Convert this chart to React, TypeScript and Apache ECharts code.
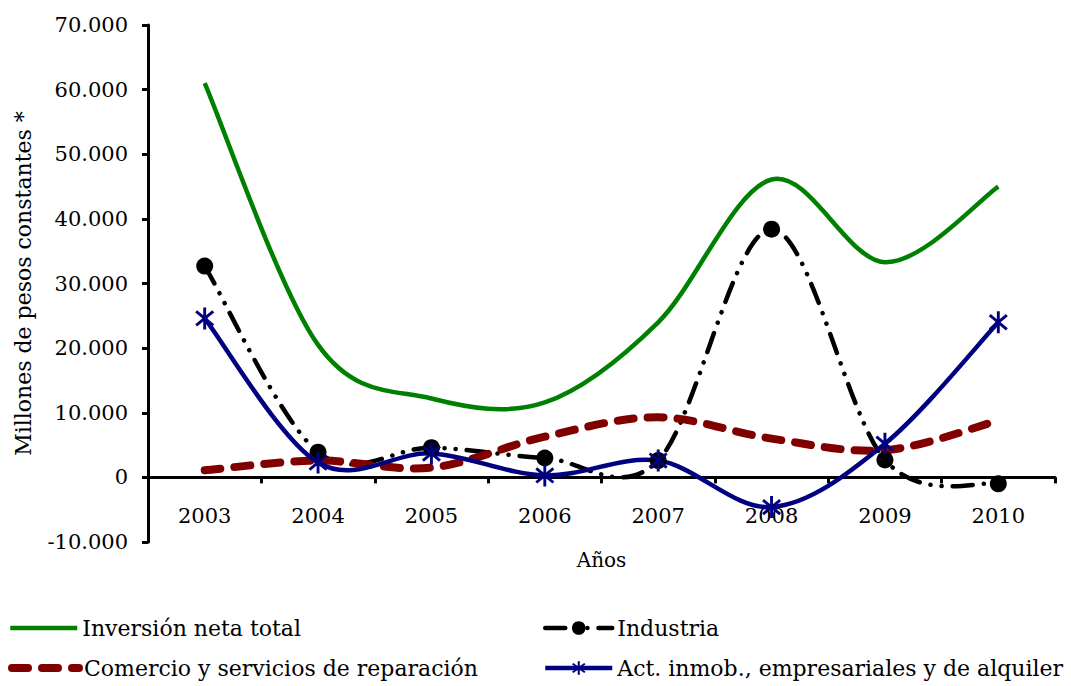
import React, { useEffect, useRef } from "react";
import * as echarts from "echarts";

const years = ["2003", "2004", "2005", "2006", "2007", "2008", "2009", "2010"];
const inversionTotal = [61000, 20500, 12200, 11600, 24000, 46100, 33300, 45000];
const industria = [32700, 3900, 4600, 3000, 2600, 38400, 2700, -1000];
const comercio = [1100, 2600, 1500, 6300, 9300, 6000, 4200, 8800];
const actInmob = [24600, 2300, 3700, 300, 2600, -4600, 5200, 24000];

const seriesNames = [
  "Inversión neta total",
  "Industria",
  "Comercio y servicios de reparación",
  "Act. inmob., empresariales y de alquiler",
];

const FONT = "'DejaVu Serif', serif";

const asterisk =
  "path://M-1.3,-10 L-1.3,10 L1.3,10 L1.3,-10 Z M6.82,7.43 L8.5,5.43 L-6.82,-7.43 L-8.5,-5.43 Z M8.5,-5.43 L6.82,-7.43 L-8.5,5.43 L-6.82,7.43 Z";

function fmt(v: number): string {
  const neg = v < 0;
  const s = Math.abs(v).toString().replace(/\B(?=(\d{3})+(?!\d))/g, ".");
  return (neg ? "-" : "") + s;
}

type LS = { color: string; width: number; dash?: number[]; cap?: string };

const styles: LS[] = [
  { color: "#008000", width: 4.5 },
  { color: "#000000", width: 4.5, dash: [20, 11, 0.1, 11, 0.1, 11], cap: "round" },
  { color: "#800000", width: 8, dash: [16, 14], cap: "round" },
  { color: "#000080", width: 4.5 },
];

// Smooth curve (Catmull-Rom style, like spreadsheet smoothing) through the library's coordinates
function splineSeries(id: string, values: number[], st: LS) {
  return {
    id,
    name: id,
    type: "custom",
    silent: true,
    clip: false,
    data: values.map((v, i) => [i, v]),
    renderItem: (params: any, api: any) => {
      if (params.dataIndex !== 0) return null;
      const pts = values.map((v, i) => api.coord([i, v]) as number[]);
      let d = `M${pts[0][0]},${pts[0][1]}`;
      for (let i = 0; i < pts.length - 1; i++) {
        const p0 = pts[i - 1] || pts[i];
        const p1 = pts[i];
        const p2 = pts[i + 1];
        const p3 = pts[i + 2] || pts[i + 1];
        const c1x = p1[0] + (p2[0] - p0[0]) / 6;
        const c1y = p1[1] + (p2[1] - p0[1]) / 6;
        const c2x = p2[0] - (p3[0] - p1[0]) / 6;
        const c2y = p2[1] - (p3[1] - p1[1]) / 6;
        d += ` C${c1x},${c1y} ${c2x},${c2y} ${p2[0]},${p2[1]}`;
      }
      return {
        type: "path",
        shape: { pathData: d },
        style: {
          fill: "none",
          stroke: st.color,
          lineWidth: st.width,
          lineDash: st.dash || null,
          lineCap: st.cap || "butt",
          lineJoin: "round",
        },
      };
    },
  };
}

export default function App() {
  const ref = useRef<HTMLDivElement>(null);
  useEffect(() => {
    if (!ref.current) return;
    const chart = echarts.init(ref.current, null, { renderer: "svg" });
    const legendBase = {
      orient: "horizontal" as const,
      padding: 0,
      itemWidth: 67,
      itemHeight: 17,
      itemGap: 5,
      textStyle: { fontFamily: FONT, fontSize: 22, color: "#000" },
    };
    const legendItem = (i: number, hideSymbol: boolean) => ({
      name: seriesNames[i],
      lineStyle: {
        color: styles[i].color,
        width: styles[i].width,
        type: styles[i].dash ? styles[i].dash : "solid",
        cap: styles[i].cap || "butt",
        opacity: 1,
      },
      itemStyle: hideSymbol
        ? { color: "rgba(0,0,0,0)", opacity: 0 }
        : { color: styles[i].color, opacity: 1 },
    });
    chart.setOption({
      animation: false,
      backgroundColor: "#fff",
      grid: { left: 148, right: 16, top: 25, bottom: 144, containLabel: false },
      legend: [
        { ...legendBase, data: [legendItem(0, true)], left: 8, top: 617 },
        { ...legendBase, data: [legendItem(1, false)], left: 543, top: 617 },
        { ...legendBase, data: [legendItem(2, true)], left: 8, top: 657 },
        { ...legendBase, data: [legendItem(3, false)], left: 543, top: 657 },
      ],
      xAxis: {
        type: "category",
        data: years,
        boundaryGap: true,
        name: "Años",
        nameLocation: "middle",
        nameGap: 8,
        nameTextStyle: { fontFamily: FONT, fontSize: 20, color: "#000" },
        axisLine: { onZero: true, lineStyle: { color: "#000", width: 3 } },
        axisTick: { show: true, length: 6, inside: false, lineStyle: { color: "#000", width: 3 } },
        axisLabel: { fontFamily: FONT, fontSize: 21, color: "#000", margin: -37 },
        splitLine: { show: false },
      },
      yAxis: {
        type: "value",
        min: -10000,
        max: 70000,
        interval: 10000,
        name: "Millones de pesos constantes *",
        nameLocation: "middle",
        nameGap: 114,
        nameRotate: 90,
        nameTextStyle: { fontFamily: FONT, fontSize: 22, color: "#000" },
        axisLine: { show: true, lineStyle: { color: "#000", width: 3 } },
        axisTick: { show: true, length: 6, inside: false, lineStyle: { color: "#000", width: 3 } },
        axisLabel: { fontFamily: FONT, fontSize: 21, color: "#000", margin: 20, formatter: (v: number) => fmt(v) },
        splitLine: { show: false },
      },
      series: [
        splineSeries("curve0", inversionTotal, styles[0]),
        splineSeries("curve1", industria, styles[1]),
        splineSeries("curve2", comercio, styles[2]),
        splineSeries("curve3", actInmob, styles[3]),
        {
          name: seriesNames[0],
          type: "line",
          data: inversionTotal,
          symbol: "none",
          lineStyle: { color: styles[0].color, width: styles[0].width, opacity: 0 },
          itemStyle: { color: styles[0].color },
        },
        {
          name: seriesNames[1],
          type: "line",
          data: industria,
          symbol: "circle",
          symbolSize: 17,
          showAllSymbol: true,
          lineStyle: { color: "#000", width: 4.5, opacity: 0 },
          itemStyle: { color: "#000" },
        },
        {
          name: seriesNames[2],
          type: "line",
          data: comercio,
          symbol: "none",
          lineStyle: { color: styles[2].color, width: 8, opacity: 0 },
          itemStyle: { color: styles[2].color },
        },
        {
          name: seriesNames[3],
          type: "line",
          data: actInmob,
          symbol: asterisk,
          symbolSize: [19, 22],
          showAllSymbol: true,
          lineStyle: { color: styles[3].color, width: 4.5, opacity: 0 },
          itemStyle: { color: styles[3].color },
        },
      ],
    });
    return () => chart.dispose();
  }, []);
  return <div ref={ref} style={{ width: 1071, height: 686, position: "absolute", left: 0, top: 0 }} />;
}
